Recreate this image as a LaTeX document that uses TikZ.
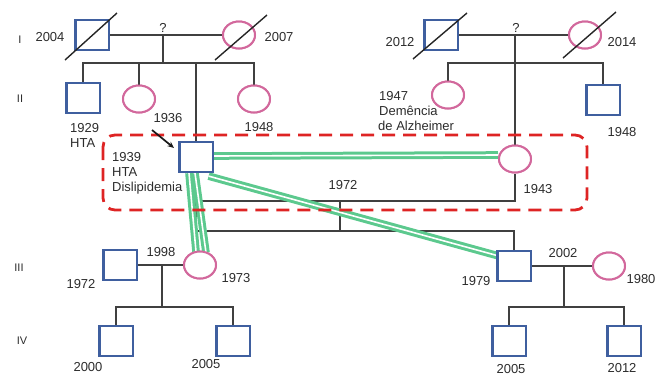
\documentclass[tikz,border=0pt]{standalone}
\usepackage{fontspec}
\setmainfont{Liberation Sans}
\usetikzlibrary{shapes.geometric,arrows.meta,calc}
\definecolor{sqblue}{HTML}{3F5F9F}
\definecolor{fpink}{HTML}{D2689C}
\definecolor{cgreen}{HTML}{5CC98E}
\definecolor{dred}{HTML}{DE2424}
\definecolor{lgray}{HTML}{404040}
\definecolor{txtgray}{HTML}{2C2C2C}
\begin{document}
\begin{tikzpicture}[x=1pt,y=-1pt,
  male/.style={draw=sqblue, line width=2.2pt, minimum width=31pt, minimum height=28pt, inner sep=0pt, fill=white},
  female/.style={ellipse, draw=fpink, line width=2pt, minimum width=32pt, minimum height=27pt, inner sep=0pt, fill=white},
  lbl/.style={font=\fontsize{13}{15}\selectfont, text=txtgray, inner sep=0pt, text height=9.3pt, text depth=0pt},
  gen/.style={font=\fontsize{11}{13}\selectfont, text=txtgray, inner sep=0pt, text height=8pt, text depth=0pt},
  rel/.style={draw=lgray, line width=1.4pt},
  dead/.style={draw=black!85, line width=1.4pt},
  cons/.style={draw=cgreen, double=white, double distance=1.6pt, line width=3pt},
  grp/.style={draw=dred, line width=2.8pt, dash pattern=on 13pt off 8pt, rounded corners=12pt}
]
\useasboundingbox (0,0) rectangle (658,376);

% generation I
\node[male]   (i1) at (92,35) {};
\node[female] (i2) at (239,35) {};
\node[male]   (i3) at (441,35) {};
\node[female] (i4) at (585,35) {};
% generation II
\node[male]   (ii1) at (83,98) {};
\node[female] (ii2) at (139,99) {};
\node[male]   (P)   at (196,157) {};
\node[female] (ii4) at (254,99) {};
\node[female] (ii5) at (448,95) {};
\node[male]   (ii6) at (603,100) {};
\node[female] (ii7) at (515,159) {};
% generation III
\node[male]   (iii1) at (120,265) {};
\node[female] (iii2) at (200,265) {};
\node[male]   (iii3) at (514,266) {};
\node[female] (iii4) at (609,266) {};
% generation IV
\node[male] (iv1) at (116,341) {};
\node[male] (iv2) at (233,341) {};
\node[male] (iv3) at (509,341) {};
\node[male] (iv4) at (624,341) {};

\coordinate (q1) at (163,35);
\coordinate (s1) at (163,63);
\coordinate (q2) at (515,35);
\coordinate (s2) at (515,63);
\coordinate (mar) at (340,201);
\coordinate (sib3) at (340,231);
\coordinate (m4) at (162,265);
\coordinate (s4) at (162,307);
\coordinate (m5) at (564,266);
\coordinate (s5) at (564,307);
\coordinate (arrS) at (152,130);
\coordinate (arrE) at (174,148);

% ---- family lines ----
\draw[rel] (i1.east) -- (i2.west);
\draw[rel] (q1) -- (s1);
\draw[rel] (ii1.north) -- (ii1.north |- s1) -- (ii4.north |- s1) -- (ii4.north);
\draw[rel] (ii2.north) -- (ii2.north |- s1);
\draw[rel] (P.north) -- (P.north |- s1);

\draw[rel] (i3.east) -- (i4.west);
\draw[rel] (q2) -- (ii7.north);
\draw[rel] (ii5.north) -- (ii5.north |- s2) -- (ii6.north |- s2) -- (ii6.north);

\draw[rel] (P.south) -- (iii2.north -| P.south);
\draw[rel] (P.south |- mar) -- (ii7.south |- mar) -- (ii7.south);
\draw[rel] (mar) -- (sib3);
\draw[rel] (P.south |- sib3) -- (iii3.north |- sib3) -- (iii3.north);

\draw[rel] (iii1.east) -- (iii2.west);
\draw[rel] (m4) -- (s4);
\draw[rel] (iv1.north) -- (iv1.north |- s4) -- (iv2.north |- s4) -- (iv2.north);

\draw[rel] (iii3.east) -- (iii4.west);
\draw[rel] (m5) -- (s5);
\draw[rel] (iv3.north) -- (iv3.north |- s5) -- (iv4.north |- s5) -- (iv4.north);

% ---- consanguinity / green bands ----
\draw[cons] ($(P.east)+(0,-1)$) -- ($(ii7.west)+(0,-4)$);
\draw[cons] ($(P.south east)+(-4,4)$) -- ($(iii3.north west)+(1,5)$);
\draw[cons] ($(P.south)+(-7,1)$) -- ($(iii2.north)+(-4,1)$);
\draw[cons] ($(P.south)+(-1,1)$) -- ($(iii2.north)+(6,2)$);

% ---- red dashed group ----
\draw[grp] (103,135) rectangle (587,210);

% ---- redraw symbols on top ----
\foreach \n in {i1,i3,ii1,P,ii6,iii1,iii3,iv1,iv2,iv3,iv4} {
  \draw[draw=sqblue, line width=2.2pt, fill=white] (\n.south west) rectangle (\n.north east);
}
\foreach \n in {i2,i4,ii2,ii4,ii5,ii7,iii2,iii4} {
  \draw[draw=fpink, line width=2pt, fill=white] (\n.center) ellipse [x radius=16pt, y radius=13.5pt];
}

% ---- death slashes ----
\draw[dead] (65,60) -- (117,13);
\draw[dead] (215,60) -- (267,15);
\draw[dead] (413,59) -- (467,13);
\draw[dead] (563,58) -- (616,12);

% ---- proband arrow ----
\draw[draw=black!90, line width=1.7pt, -{Stealth[length=6.5pt,width=5.5pt]}] (arrS) -- (arrE);

% ---- generation labels ----
\node[gen] (gI)   at (20,39)  {I};
\node[gen] (gII)  at (20,98)  {II};
\node[gen] (gIII) at (19,267) {III};
\node[gen] (gIV)  at (22,340) {IV};

% ---- labels ----
\node[lbl] (t2004) at (50,37)  {2004};
\node[lbl] (t2007) at (279,37) {2007};
\node[lbl] (tq1)   at (163,28) {?};
\node[lbl] (t2012) at (400,42) {2012};
\node[lbl] (t2014) at (622,42) {2014};
\node[lbl] (tq2)   at (516,28) {?};

\node[lbl, anchor=west] (t1929) at (70,128) {1929};
\node[lbl, anchor=west] (tHTA1) at (70,143) {HTA};
\node[lbl] (t1936) at (168,118) {1936};
\node[lbl] (t1948a) at (259,127) {1948};

\node[lbl, anchor=west] (t1939) at (112,157) {1939};
\node[lbl, anchor=west] (tHTA2) at (112,172) {HTA};
\node[lbl, anchor=west] (tDis)  at (112,187) {Dislipidemia};

\node[lbl, anchor=west] (t1947) at (379,96)  {1947};
\node[lbl, anchor=west] (tDem)  at (379,111) {Demência};
\node[lbl, anchor=west] (tAlz)  at (378,126) {de Alzheimer};
\node[lbl] (t1948b) at (622,132) {1948};

\node[lbl] (t1972a) at (343,185) {1972};
\node[lbl] (t1943)  at (538,189) {1943};

\node[lbl] (t1972b) at (81,284)  {1972};
\node[lbl] (t1998)  at (161,252) {1998};
\node[lbl] (t1973)  at (236,278) {1973};
\node[lbl] (t2000)  at (88,367)  {2000};
\node[lbl] (t2005a) at (206,364) {2005};

\node[lbl] (t1979)  at (476,281) {1979};
\node[lbl] (t2002)  at (563,253) {2002};
\node[lbl] (t1980)  at (641,279) {1980};
\node[lbl] (t2005b) at (511,369) {2005};
\node[lbl] (t2012b) at (622,368) {2012};
\end{tikzpicture}
\end{document}
